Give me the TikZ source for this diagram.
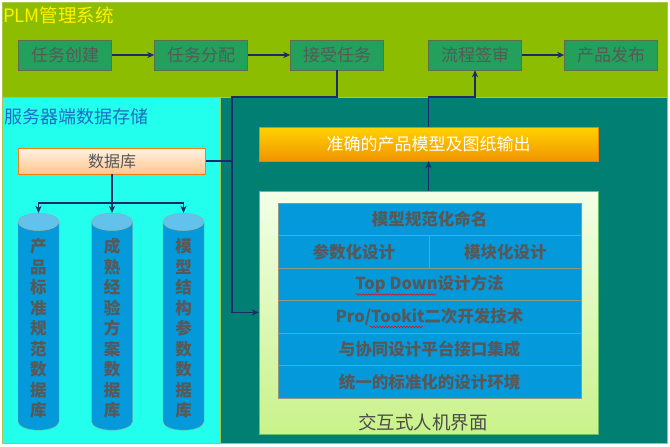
\documentclass[tikz,border=0pt]{standalone}
\usepackage{fontspec}
\setmainfont{Noto Sans CJK SC}
\usetikzlibrary{shapes.geometric, arrows.meta, positioning, decorations.pathmorphing}
\definecolor{plmgreen}{HTML}{8CBD00}
\definecolor{taskgreen}{HTML}{22A05C}
\definecolor{boxedge}{HTML}{5E6E50}
\definecolor{txtgray}{HTML}{585858}
\definecolor{storecyan}{HTML}{22FFEC}
\definecolor{teal}{HTML}{007F72}
\definecolor{navy}{HTML}{1C2A6A}
\definecolor{cellblue}{HTML}{0399DA}
\definecolor{dbtop}{HTML}{62C2EC}
\definecolor{titleblue}{HTML}{1F6CC4}
\definecolor{edgegreen}{HTML}{A8C84A}
\definecolor{outtop}{HTML}{FFD200}
\definecolor{outbot}{HTML}{F29400}
\definecolor{uitop}{HTML}{F3FFE8}
\definecolor{uibot}{HTML}{C9F28A}

\begin{document}
\begin{tikzpicture}[x=1pt, y=-1pt,
    task/.style={draw=boxedge, fill=taskgreen, text=txtgray, minimum width=93, minimum height=30, font=\fontsize{17}{17}\selectfont},
    cell/.style={draw=boxedge!70, fill=cellblue, text=txtgray, minimum height=32.5, font=\fontsize{16.5}{16.5}\selectfont\bfseries},
    dbase/.style={cylinder, shape border rotate=90, draw=boxedge!60, aspect=0.75, minimum width=41, minimum height=217,
        cylinder uses custom fill, cylinder body fill=cellblue, cylinder end fill=dbtop, text=txtgray,
        align=center, font=\fontsize{16.5}{20.5}\selectfont\bfseries},
    link/.style={draw=navy, line width=1.4pt},
    >={Stealth[length=7pt, width=6pt, inset=2pt]}]
\useasboundingbox (0,0) rectangle (670,447);
\fill[white] (0,0) rectangle (670,447);

% panels
\draw[edgegreen, fill=plmgreen] (2,2) rectangle (667,97);
\draw[edgegreen, fill=storecyan] (2,97) rectangle (220,443);
\draw[edgegreen, fill=teal] (220,97) rectangle (667,443);
\node[anchor=west, text=yellow, font=\fontsize{18.5}{18.5}\selectfont, inner sep=0] (plm) at (3,15) {PLM管理系统};
\node[anchor=west, text=titleblue, font=\fontsize{18}{18}\selectfont, inner sep=0] (store) at (4,117) {服务器端数据存储};

% PLM tasks
\node[task] (create) at (65,55) {任务创建};
\node[task] (assign) at (201,55) {任务分配};
\node[task] (accept) at (337,55) {接受任务};
\node[task] (sign) at (475,55) {流程签审};
\node[task] (release) at (611,55) {产品发布};

% database
\node[draw=orange!80!brown, top color=orange!10, bottom color=orange!45, text=txtgray,
    minimum width=187, minimum height=26, font=\fontsize{16}{16}\selectfont] (db) at (112,161) {数据库};
\node[dbase] (db1) at (38.5,328.5) {产\\品\\标\\准\\规\\范\\数\\据\\库};
\node[dbase] (db2) at (112,328.5) {成\\熟\\经\\验\\方\\案\\数\\据\\库};
\node[dbase] (db3) at (183.5,328.5) {模\\型\\结\\构\\参\\数\\数\\据\\库};

% output and interface
\node[draw=orange!70!brown, top color=outtop, bottom color=outbot, text=white,
    minimum width=339, minimum height=34, font=\fontsize{17}{17}\selectfont] (out) at (428.5,144) {准确的产品模型及图纸输出};
\node[draw=green!60!black!60, top color=uitop, bottom color=uibot,
    minimum width=339, minimum height=243] (ui) at (428.5,312.5) {};
\node[text=black!70, font=\fontsize{18.5}{18.5}\selectfont] (uilabel) at (423,422) {交互式人机界面};

% design table
\node[cell, minimum width=303] (row1) at (429.5,219.25) {模型规范化命名};
\node[cell, minimum width=151.5] (row2a) at (353.75,251.75) {参数化设计};
\node[cell, minimum width=151.5] (row2b) at (505.25,251.75) {模块化设计};
\foreach \t [count=\i from 3] in {Top Down设计方法, Pro/Tookit二次开发技术, 与协同设计平台接口集成, 统一的标准化的设计环境}
    \node[cell, minimum width=303] (row\i) at (429.5,{219.25+(\i-1)*32.5}) {\t};
\draw[red, line width=0.5pt, decorate, decoration={snake, amplitude=0.8pt, segment length=3pt}] (356,294.5) -- (436,294.5);
\draw[red, line width=0.5pt, decorate, decoration={snake, amplitude=0.8pt, segment length=3pt}] (370,327) -- (423,327);

% connectors
\coordinate (bend) at (232,97);
\coordinate (turn) at (428.5,97);
\draw[link, ->] (create) -- (assign);
\draw[link, ->] (assign) -- (accept);
\draw[link, ->] (sign) -- (release);
\draw[link, ->] (accept.south) |- (bend) |- (ui.west);
\draw[link] (db.east) -- (db.east -| bend);
\draw[link, ->] (ui.north) -- (out.south);
\draw[link, ->] (out.north) -- (turn) -| (sign.south);
\coordinate (split) at (112,203);
\draw[link, ->] (db.south) -- (db2.top);
\draw[link, ->] (split) -| (db1.top);
\draw[link, ->] (split) -| (db3.top);
\end{tikzpicture}
\end{document}
